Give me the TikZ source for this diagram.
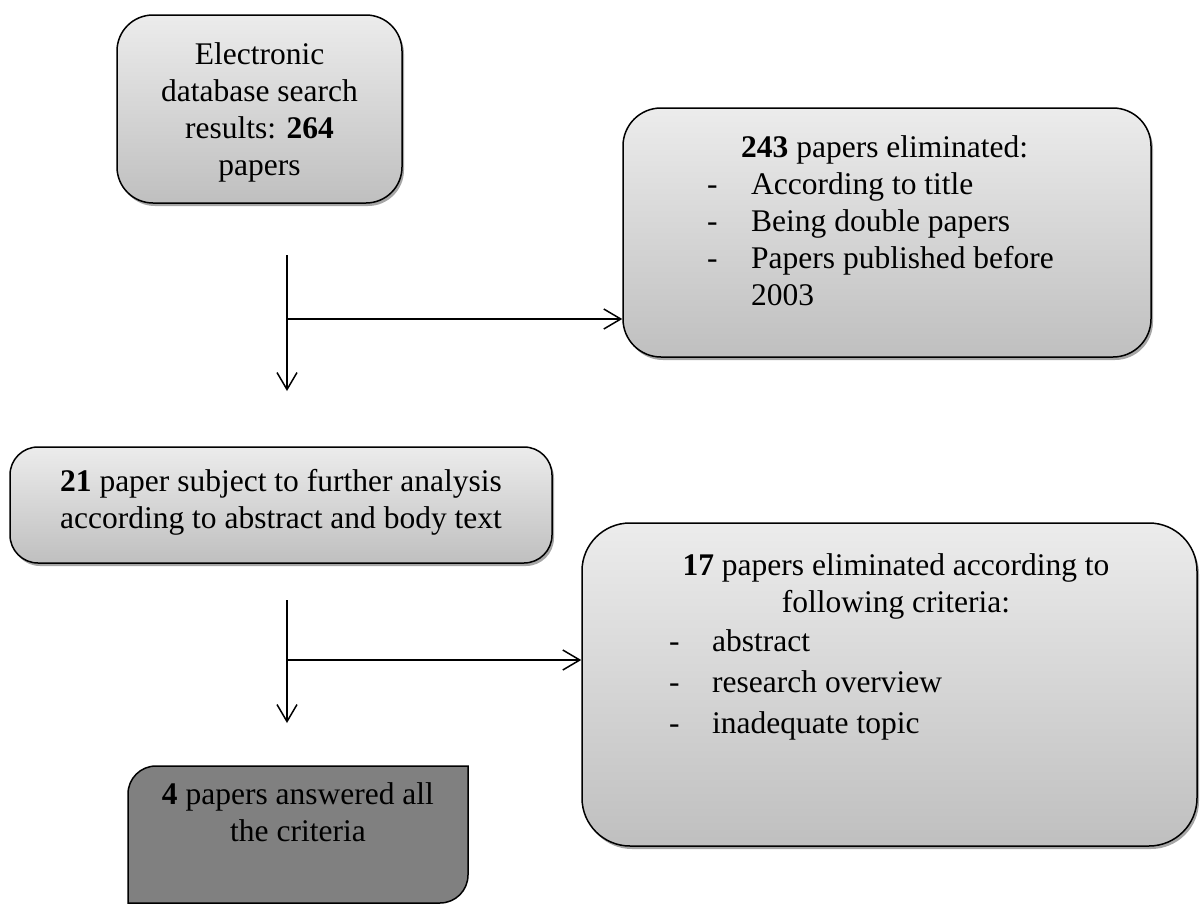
\documentclass[tikz,border=0pt]{standalone}
\usepackage{fontspec}
\setmainfont{Liberation Serif}
\usetikzlibrary{shadows,arrows.meta}

\begin{document}
\begin{tikzpicture}[x=1pt,y=-1pt,
    box/.style={draw, line width=1.5pt, top color=gray!15, bottom color=gray!50,
      drop shadow={shadow xshift=2pt, shadow yshift=-3pt, fill=gray!70, opacity=1}},
    txt/.style={inner sep=0pt, font=\fontsize{31.5}{36.8}\selectfont},
    flow/.style={line width=1.5pt, -{Straight Barb[length=17pt,width=20pt,line width=1.5pt]}}]
      \useasboundingbox (0,0) rectangle (1203,905);

      % BOXES
      % search results
      \node[box, rounded corners=36pt, minimum width=285pt, minimum height=188pt] (search) at (259.5,109) {};
      \node[txt, anchor=north] (search-text) at (259.5,39)
        {\begin{tabular}{@{}c@{}}Electronic\\database search\\results: \textbf{264}\\papers\end{tabular}};

      % first elimination
      \node[box, rounded corners=38pt, minimum width=528pt, minimum height=249pt] (elim) at (887,232.5) {};
      \node[txt, anchor=north west] (elim-text) at (707,132)
        {\begin{tabular}{@{}p{44pt}@{}l@{}}
          \multicolumn{2}{@{}l@{}}{\hspace{34pt}\textbf{243} papers eliminated:}\\
          - & According to title\\
          - & Being double papers\\
          - & Papers published before\\
            & 2003
        \end{tabular}};

      % further analysis
      \node[box, rounded corners=28pt, minimum width=542pt, minimum height=116pt] (further) at (281,505) {};
      \node[txt, anchor=north] (further-text) at (281,466)
        {\begin{tabular}{@{}c@{}}\textbf{21} paper subject to further analysis\\according to abstract and body text\end{tabular}};

      % second elimination
      \node[box, rounded corners=48pt, minimum width=615pt, minimum height=323pt] (crit) at (889.5,684.5) {};
      \node[txt, anchor=north] (crit-title) at (896,550)
        {\begin{tabular}{@{}c@{}}\textbf{17} papers eliminated according to\\following criteria:\end{tabular}};
      \node[txt, anchor=north west] (crit-list) at (669,623)
        {\renewcommand\arraystretch{1.11}\begin{tabular}{@{}p{43pt}@{}l@{}}
          - & abstract\\
          - & research overview\\
          - & inadequate topic
        \end{tabular}};

      % answered (round corners top left and bottom right only)
      \draw[line width=1.5pt, fill=gray] (128,903) -- (128,794)
        .. controls (128,778.5) and (140.5,766) .. (156,766)
        -- (468,766) -- (468,875)
        .. controls (468,890.5) and (455.5,903) .. (440,903)
        -- cycle;
      \node[txt, anchor=north] (answered-text) at (298,779)
        {\begin{tabular}{@{}c@{}}\textbf{4} papers answered all\\the criteria\end{tabular}};

      % ARROWS
      % first split
      \coordinate (split1-top) at (287,255);
      \coordinate (split1) at (287,319);
      \coordinate (split1-end) at (287,391);
      \draw[flow] (split1-top) -- (split1-end);
      \draw[flow] (split1) -- (split1 -| elim.west);

      % second split
      \coordinate (split2-top) at (287,600);
      \coordinate (split2) at (287,660);
      \coordinate (split2-end) at (287,723);
      \draw[flow] (split2-top) -- (split2-end);
      \draw[flow] (split2) -- (split2 -| crit.west);
\end{tikzpicture}
\end{document}
